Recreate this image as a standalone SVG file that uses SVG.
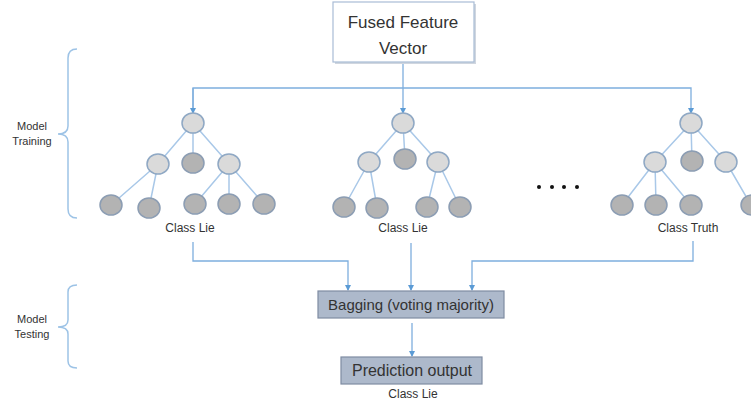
<svg xmlns="http://www.w3.org/2000/svg" width="751" height="404" viewBox="0 0 751 404">
<defs>
<marker id="arr" markerWidth="6" markerHeight="6" refX="5" refY="3" orient="auto" markerUnits="userSpaceOnUse">
<path d="M0,0 L6,3 L0,6 z" fill="#5b9bd5"/>
</marker>
<style>
.conn{fill:none;stroke:#7eaede;stroke-width:1.3}
.edge{fill:none;stroke:#a9c8e8;stroke-width:1.5}
.lt{fill:#dadada;stroke:#8fa8c4;stroke-width:1.5}
.dk{fill:#b3b3b3;stroke:#8c9db3;stroke-width:1.5}
.brace{fill:none;stroke:#9dc3e6;stroke-width:1.5}
.t{font-family:"Liberation Sans",Arial,sans-serif;fill:#333;text-anchor:middle}
.box{fill:#adb9cb;stroke:#7f8ca2;stroke-width:1.2}
</style>
</defs>
<rect width="751" height="404" fill="#fff"/>

<g id="connectors">
<path class="conn" d="M403,62 V113" marker-end="url(#arr)"/>
<path class="conn" d="M193,113 V88 H691 V113" marker-end="url(#arr)"/>
<path class="conn" d="M193,88 V113" marker-end="url(#arr)"/>
<path class="conn" d="M193,242 V261 H348 V290" marker-end="url(#arr)"/>
<path class="conn" d="M411,243 V290" marker-end="url(#arr)"/>
<path class="conn" d="M693,241 V261 H472 V290" marker-end="url(#arr)"/>
<path class="conn" d="M412,323 V356" marker-end="url(#arr)"/>
</g>

<g id="fused">
<rect x="335" y="4" width="141" height="60" fill="#d0d6df"/>
<rect x="333" y="2" width="141" height="60" fill="#fff" stroke="#a9bcd6" stroke-width="1.2"/>
<text class="t" x="403" y="28" font-size="17">Fused Feature</text>
<text class="t" x="403" y="54" font-size="17">Vector</text>
</g>

<g id="brace-training">
<path class="brace" d="M77,49 Q68,49 68,58 V126 Q68,134 58,134 Q68,134 68,142 V209 Q68,218 77,218"/>
<text class="t" x="32" y="130" font-size="11">Model</text>
<text class="t" x="32" y="145" font-size="11">Training</text>
</g>

<g id="brace-testing">
<path class="brace" d="M77,285 Q68,285 68,292 V320 Q68,327 58,327 Q68,327 68,334 V361 Q68,368 77,368"/>
<text class="t" x="32" y="323" font-size="11">Model</text>
<text class="t" x="32" y="338" font-size="11">Testing</text>
</g>

<g id="tree1">
<path class="edge" d="M193,123 L158,164 M193,123 L193,164 M193,123 L229,164 M158,164 L111,205 M158,164 L149,208 M229,164 L195,204 M229,164 L229,204 M229,164 L264,204"/>
<ellipse class="lt" cx="193" cy="123" rx="11" ry="10"/>
<ellipse class="lt" cx="158" cy="164" rx="11" ry="10"/>
<ellipse class="dk" cx="193" cy="163" rx="11" ry="10"/>
<ellipse class="lt" cx="229" cy="164" rx="11" ry="10"/>
<ellipse class="dk" cx="111" cy="205" rx="11" ry="10"/>
<ellipse class="dk" cx="149" cy="208" rx="11" ry="10"/>
<ellipse class="dk" cx="195" cy="204" rx="11" ry="10"/>
<ellipse class="dk" cx="229" cy="204" rx="11" ry="10"/>
<ellipse class="dk" cx="264" cy="204" rx="11" ry="10"/>
<text class="t" x="190" y="232" font-size="12">Class Lie</text>
</g>

<g id="tree2">
<path class="edge" d="M403,123 L369,162 M403,123 L405,159 M403,123 L438,162 M369,162 L344,207 M369,162 L377,207 M438,162 L427,207 M438,162 L460,207"/>
<ellipse class="lt" cx="403" cy="123" rx="11" ry="10"/>
<ellipse class="lt" cx="369" cy="162" rx="11" ry="10"/>
<ellipse class="dk" cx="405" cy="159" rx="11" ry="10"/>
<ellipse class="lt" cx="438" cy="162" rx="11" ry="10"/>
<ellipse class="dk" cx="344" cy="207" rx="11" ry="10"/>
<ellipse class="dk" cx="377" cy="208" rx="11" ry="10"/>
<ellipse class="dk" cx="427" cy="207" rx="11" ry="10"/>
<ellipse class="dk" cx="460" cy="207" rx="11" ry="10"/>
<text class="t" x="403" y="232" font-size="12">Class Lie</text>
</g>

<g id="dots" fill="#111">
<circle cx="539" cy="187" r="2"/>
<circle cx="552" cy="187" r="2"/>
<circle cx="564" cy="187" r="2"/>
<circle cx="577" cy="187" r="2"/>
</g>

<g id="tree3">
<path class="edge" d="M691,123 L655,162 M691,123 L692,162 M691,123 L726,162 M655,162 L622,205 M655,162 L656,205 M655,162 L691,205 M726,162 L751,205"/>
<ellipse class="lt" cx="691" cy="123" rx="11" ry="10"/>
<ellipse class="lt" cx="655" cy="162" rx="11" ry="10"/>
<ellipse class="dk" cx="692" cy="161" rx="11" ry="10"/>
<ellipse class="lt" cx="726" cy="162" rx="11" ry="10"/>
<ellipse class="dk" cx="622" cy="205" rx="11" ry="10"/>
<ellipse class="dk" cx="656" cy="205" rx="11" ry="10"/>
<ellipse class="dk" cx="691" cy="205" rx="11" ry="10"/>
<ellipse class="dk" cx="752" cy="205" rx="11" ry="10"/>
<text class="t" x="688" y="232" font-size="12">Class Truth</text>
</g>

<g id="bagging">
<rect class="box" x="318" y="291" width="186" height="27"/>
<text class="t" x="411" y="310" font-size="15">Bagging (voting majority)</text>
</g>

<g id="prediction">
<rect class="box" x="341" y="357" width="141" height="27"/>
<text class="t" x="412" y="376" font-size="16">Prediction output</text>
<text class="t" x="413" y="398" font-size="12">Class Lie</text>
</g>
</svg>
